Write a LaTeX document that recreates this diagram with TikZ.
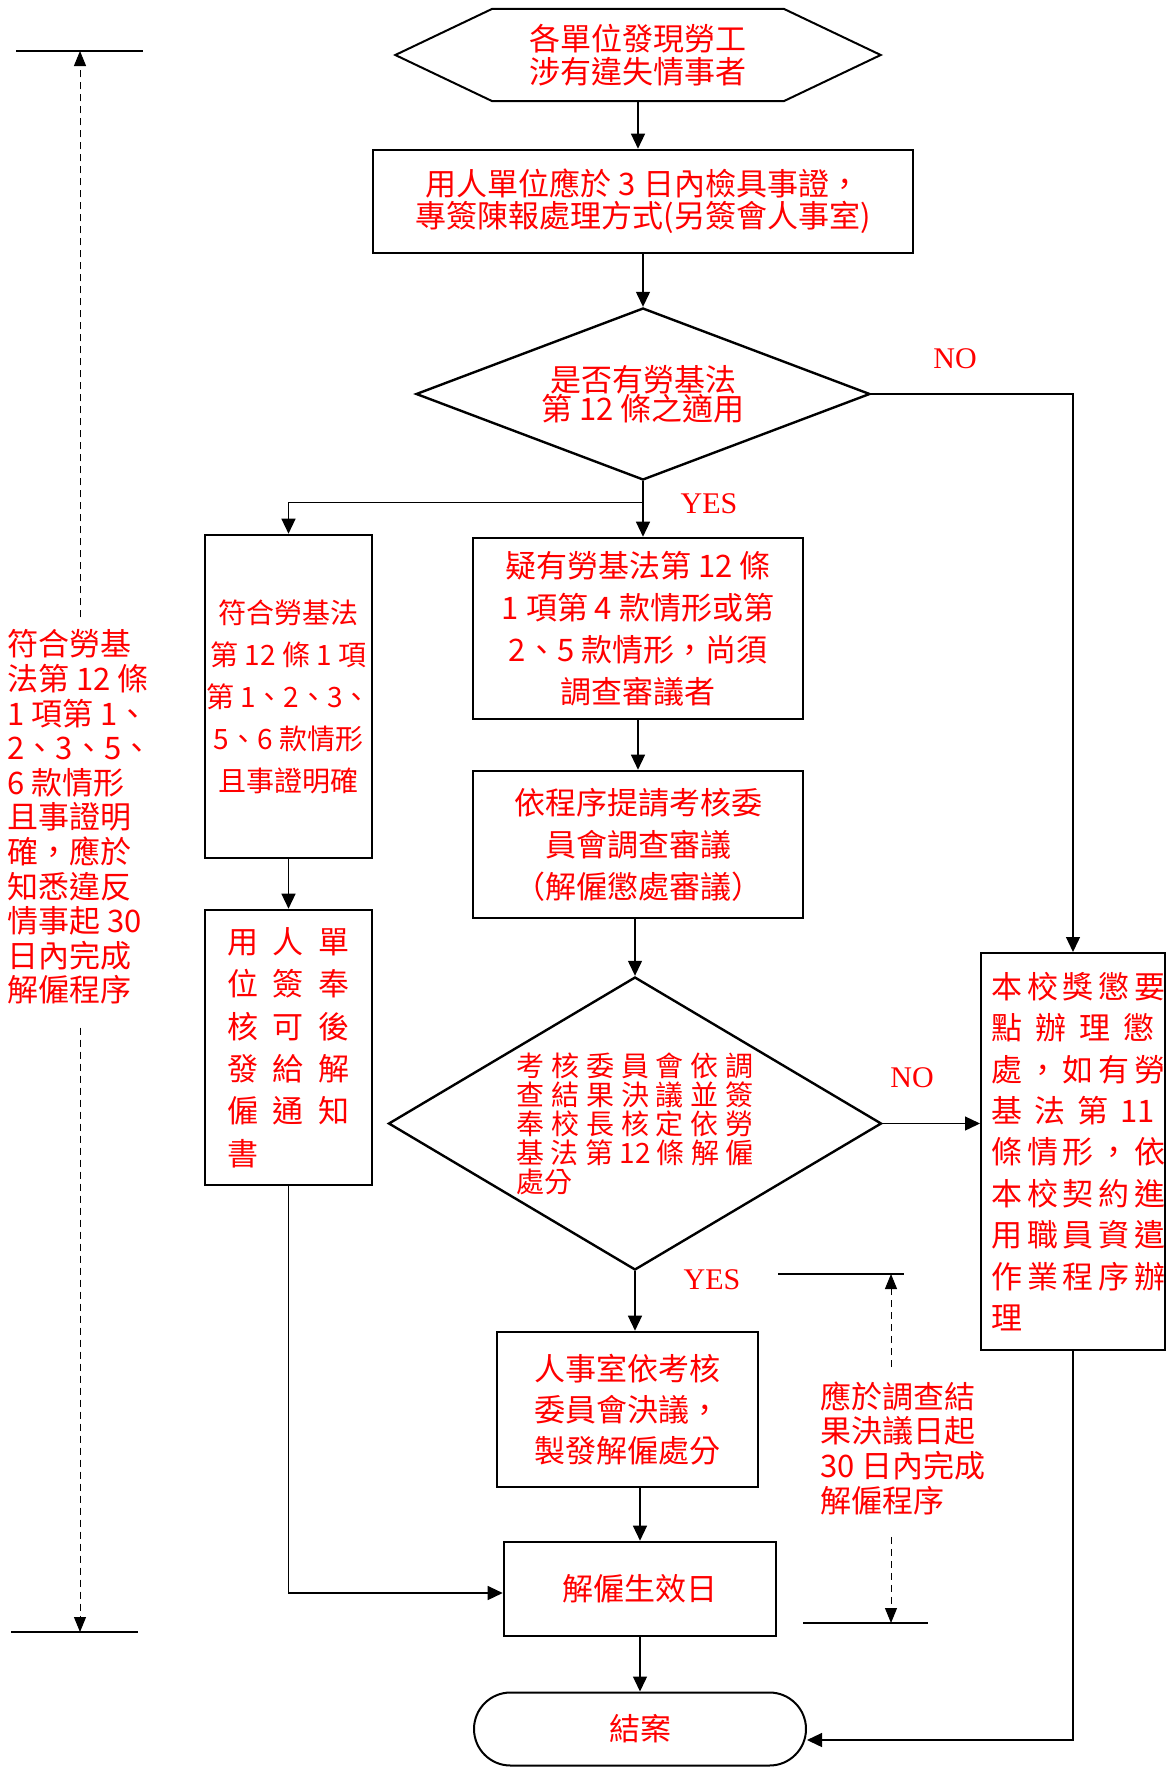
\documentclass[tikz,border=0pt]{standalone}
\usepackage{fontspec}
\setmainfont{Liberation Serif}
\newfontfamily\cjk{Noto Sans CJK TC}
\usetikzlibrary{positioning}
\usetikzlibrary{shapes.geometric,shapes.misc,arrows.meta}
\tikzset{box node/.style={rectangle,draw,line width=2.6pt,inner sep=0pt,text=red,align=center},
  choice node/.style={diamond,draw,line width=2.4pt,inner sep=0pt,text=red,align=center},
  cjk/.style={font=\cjk\fontsize{31}{#1}\selectfont},
  cjk/.default=42,
  flow/.style={-{Triangle[length=15pt,width=14pt]},line width=1.3pt},
  span/.style={-{Triangle[length=15pt,width=12pt]},line width=1pt,dash pattern=on 7pt off 5pt},
  answer/.style={text=red,font=\fontsize{30}{36}\selectfont},
  note/.style={text=red,align=left,inner sep=0pt},}
\newcommand{\jline}[2]{\makebox[#1][s]{#2}}

\begin{document}
\begin{tikzpicture}[x=1pt,y=-1pt]
   \useasboundingbox (0,0) rectangle (1166,1767);

   \node[cjk=33,text=red,align=center,inner sep=0pt,minimum width=291pt,minimum height=92pt] (start) at (638,55) {各單位發現勞工\\涉有違失情事者};
   \draw[line width=2pt] (start.north west) -- (start.north east) -- ([xshift=97pt]start.east) -- (start.south east) -- (start.south west) -- ([xshift=-97pt]start.west) -- cycle;
   \node[box node,cjk=32,minimum width=540pt,minimum height=103pt] (report) at (643,201.5) {用人單位應於 3 日內檢具事證，\\專簽陳報處理方式(另簽會人事室)};
   \node[choice node,cjk=29,aspect=2.64,minimum width=454pt,minimum height=172pt] (law) at (643,394) {是否有勞基法\\第 12 條之適用};
   \node[box node,cjk,minimum width=330pt,minimum height=181pt] (doubt) at (638,628.5) {疑有勞基法第 12 條\\1 項第 4 款情形或第\\2、5 款情形，尚須\\調查審議者};
   \node[box node,cjk,minimum width=330pt,minimum height=147pt] (review) at (638,844.5) {依程序提請考核委\\員會調查審議\\（解僱懲處審議）};
   \node[choice node,font=\cjk\fontsize{28}{29}\selectfont,align=left,aspect=1.68,minimum width=493pt,minimum height=293pt] (decide) at (635,1123.5) {\jline{237pt}{考 核 委 員 會 依 調}\\\jline{237pt}{查 結 果 決 議 並 簽}\\\jline{237pt}{奉 校 長 核 定 依 勞}\\\jline{237pt}{基 法 第 12 條 解 僱}\\處分};
   \node[box node,cjk=41,minimum width=261pt,minimum height=155pt] (issue) at (627.5,1409.5) {人事室依考核\\委員會決議，\\製發解僱處分};
   \node[box node,cjk,minimum width=272pt,minimum height=94pt] (effect) at (640,1589) {解僱生效日};
   \node[rounded rectangle,draw,line width=2pt,inner sep=0pt,text=red,cjk,minimum width=332pt,minimum height=73pt] (close) at (640,1729) {結案};

   \node[box node,font=\cjk\fontsize{28}{42}\selectfont,minimum width=167pt,minimum height=323pt] (clear) at (288.5,696.5) {符合勞基法\\第 12 條 1 項\\第 1、2、3、\\5、6 款情形\\且事證明確};
   \node[box node,cjk=42.4,align=left,minimum width=167pt,minimum height=275pt] (notify) at (288.5,1047.5) {\jline{123pt}{用 人 單}\\\jline{123pt}{位 簽 奉}\\\jline{123pt}{核 可 後}\\\jline{123pt}{發 給 解}\\\jline{123pt}{僱 通 知}\\書};
   \node[box node,line width=2pt,cjk=41.4,align=left,minimum width=184pt,minimum height=397pt] (rules) at (1073,1151.5) {\jline{163pt}{本 校 獎 懲 要}\\\jline{163pt}{點 辦 理 懲}\\\jline{163pt}{處 ， 如 有 勞}\\\jline{163pt}{基 法 第 11}\\\jline{163pt}{條 情 形 ， 依}\\\jline{163pt}{本 校 契 約 進}\\\jline{163pt}{用 職 員 資 遣}\\\jline{163pt}{作 業 程 序 辦}\\理};

   \node[answer] (no1) at (955,359) {NO};
   \node[answer] (yes1) at (709,504) {YES};
   \node[answer] (no2) at (912,1078) {NO};
   \node[answer] (yes2) at (712,1280) {YES};

   \coordinate (split) at ([yshift=-21pt]law.south);
    \path[flow]
    (report) edge (law)
    (doubt) edge (review)
    (clear) edge (notify)
    (effect) edge (close);
    \draw[flow] (start.south) -- (start.south |- report.north);
    \draw[flow] (law.south) -- (law.south |- doubt.north);
    \draw[flow] (split) -| (clear.north);
    \draw[flow] (decide.north |- review.south) -- (decide.north);
    \draw[flow] (decide.south) -- (decide.south |- issue.north);
    \draw[flow] (effect.north |- issue.south) -- (effect.north);
    \draw[flow] (law.east) -| (rules.north);
    \draw[flow] (decide.east) -- (decide.east -| rules.west);
    \draw[flow] (notify.south) |- ([yshift=-4pt]effect.west);
    \draw[flow] (rules.south) |- ([yshift=-11pt]close.east);

   \coordinate (ltop) at (16,51);
   \coordinate (lbot) at (11,1632);
   \draw[line width=1.3pt] (ltop) -- ++(127,0);
   \draw[line width=1.3pt] (lbot) -- ++(127,0);
   \node[note,cjk=34.6] (ldays) at (80,817) {符合勞基\\法第 12 條\\1 項第 1、\\2、3、5、\\6 款情形\\且事證明\\確，應於\\知悉違反\\情事起 30\\日內完成\\解僱程序};
    \draw[span,shorten <=12pt] (ldays) -- (ldays |- ltop);
    \draw[span,shorten <=23pt] (ldays) -- (ldays |- lbot);

   \coordinate (rtop) at (778,1274);
   \coordinate (rbot) at (803,1623);
   \draw[line width=1.3pt] (rtop) -- ++(126,0);
   \draw[line width=1.3pt] (rbot) -- ++(125,0);
   \node[note,cjk=34.7] (rdays) at (903,1448) {應於調查結\\果決議日起\\30 日內完成\\解僱程序};
    \draw[span,shorten <=14pt] ([xshift=-12pt]rdays.north) -- ([xshift=-12pt]rdays.north |- rtop);
    \draw[span,shorten <=22pt] ([xshift=-12pt]rdays.south) -- ([xshift=-12pt]rdays.south |- rbot);
\end{tikzpicture}
\end{document}
